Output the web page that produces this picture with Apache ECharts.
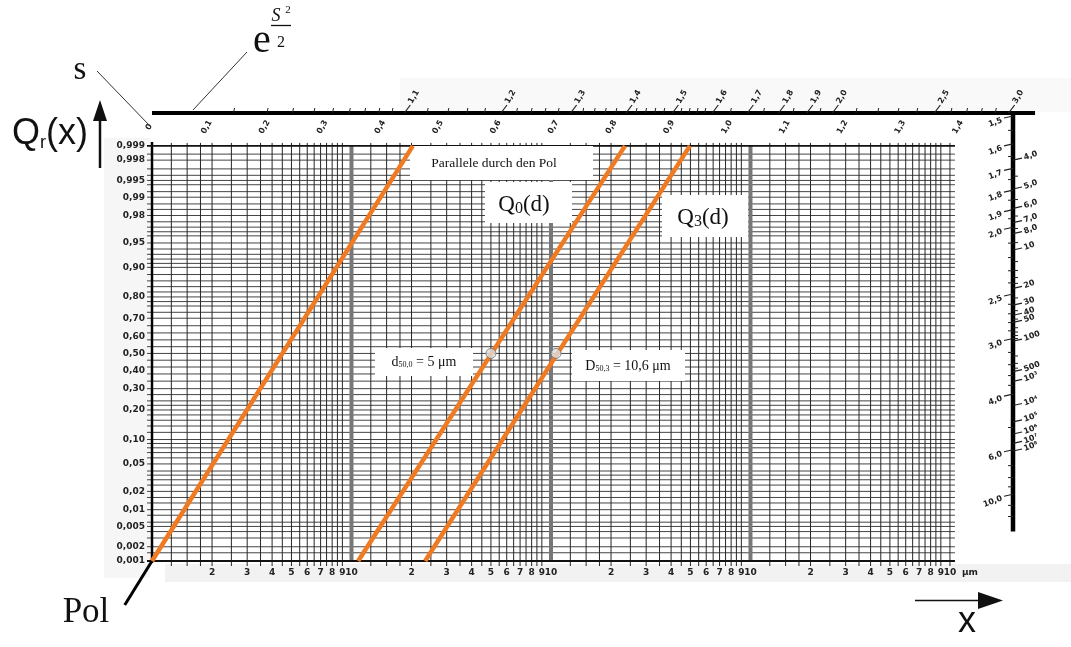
<!DOCTYPE html>
<html><head><meta charset="utf-8">
<script src="https://cdn.jsdelivr.net/npm/echarts/dist/echarts.min.js"></script>
<style>html,body{margin:0;padding:0;background:#fff}#c{width:1071px;height:647px}</style>
</head><body><div id="c"></div>
<script>
// ---------------- data ----------------
const xDecadeStarts = [0.1, 1, 10, 100];
const xGridMantissas = [1, 1.25, 1.5, 1.75, 2, 2.5, 3, 3.5, 4, 4.5, 5, 5.5, 6, 6.5, 7, 7.5, 8, 8.5, 9];
const xBoldLines = [1, 10, 100];
const xLeftEdge = 0.1;
const xRightEdge = 1000;
const xTickMantissas = [2, 3, 4, 5, 6, 7, 8, 9, 10];
const xTickLabels = ['2', '3', '4', '5', '6', '7', '8', '9', '10'];
const xUnit = 'μm';

const yTickProbs = [0.999, 0.998, 0.995, 0.99, 0.98, 0.95, 0.90, 0.80, 0.70, 0.60, 0.50, 0.40, 0.30, 0.20, 0.10, 0.05, 0.02, 0.01, 0.005, 0.002, 0.001];
const yTickLabels = ['0,999', '0,998', '0,995', '0,99', '0,98', '0,95', '0,90', '0,80', '0,70', '0,60', '0,50', '0,40', '0,30', '0,20', '0,10', '0,05', '0,02', '0,01', '0,005', '0,002', '0,001'];
const yGridProbs = [0.0015, 0.002, 0.003, 0.004, 0.005, 0.006, 0.008, 0.01, 0.013, 0.016, 0.02, 0.025, 0.03, 0.035, 0.04, 0.05, 0.06, 0.07, 0.08, 0.09, 0.10, 0.12, 0.14, 0.16, 0.18, 0.20, 0.22, 0.24, 0.27, 0.30, 0.34, 0.38, 0.42, 0.46, 0.50, 0.54, 0.58, 0.62, 0.66, 0.70, 0.73, 0.76, 0.78, 0.80, 0.82, 0.84, 0.86, 0.88, 0.90, 0.91, 0.92, 0.93, 0.94, 0.95, 0.96, 0.965, 0.97, 0.975, 0.98, 0.984, 0.987, 0.99, 0.992, 0.994, 0.995, 0.996, 0.997, 0.998, 0.9985];
const yBorderProbs = [0.001, 0.999];

// distribution lines  [x (µm), Q]
const polLine = [[0.1, 0.001], [2.03, 0.999]];
const polExtension = [[0.1, 0.001], [0.073, 0.00009]];
const q0Line = [[1.08, 0.001], [23.5, 0.999]];
const q3Line = [[2.34, 0.001], [49.7, 0.999]];
const medianPoints = [[5, 0.5], [10.6, 0.5]];

// nomogram scales
const sTopValues = [0, 0.1, 0.2, 0.3, 0.4, 0.5, 0.6, 0.7, 0.8, 0.9, 1.0, 1.1, 1.2, 1.3, 1.4];
const sTopLabels = ['0', '0,1', '0,2', '0,3', '0,4', '0,5', '0,6', '0,7', '0,8', '0,9', '1,0', '1,1', '1,2', '1,3', '1,4'];
const sRightValues = [1.5, 1.6, 1.7, 1.8, 1.9, 2.0, 2.5, 3.0, 4.0, 6.0, 10.0];
const sRightLabels = ['1,5', '1,6', '1,7', '1,8', '1,9', '2,0', '2,5', '3,0', '4,0', '6,0', '10,0'];
const sRightMinor = [1.55, 1.65, 1.75, 1.85, 1.95, 2.1, 2.2, 2.3, 2.4, 2.6, 2.7, 2.8, 2.9, 3.2, 3.4, 3.6, 3.8, 5.0, 7.0, 8.0, 9.0, 12, 15];
const eTopValues = [1.1, 1.2, 1.3, 1.4, 1.5, 1.6, 1.7, 1.8, 1.9, 2.0, 2.5, 3.0];
const eTopLabels = ['1,1', '1,2', '1,3', '1,4', '1,5', '1,6', '1,7', '1,8', '1,9', '2,0', '2,5', '3,0'];
const eTopMinor = [1.01, 1.02, 1.03, 1.04, 1.05, 1.06, 1.07, 1.08, 1.09, 1.12, 1.14, 1.16, 1.18, 1.22, 1.24, 1.26, 1.28, 1.32, 1.34, 1.36, 1.38, 1.42, 1.44, 1.46, 1.48, 1.52, 1.54, 1.56, 1.58, 1.65, 1.75, 1.85, 1.95, 2.1, 2.2, 2.3, 2.4, 2.6, 2.7, 2.8, 2.9];
const eRightValues = [4, 5, 6, 7, 8, 10, 20, 30, 40, 50, 100, 500, 1e3, 1e4, 1e5, 1e6, 1e7, 1e8];
const eRightLabels = ['4,0', '5,0', '6,0', '7,0', '8,0', '10', '20', '30', '40', '50', '100', '500', '10³', '10⁴', '10⁵', '10⁶', '10⁷', '10⁸'];
const eRightMinor = [4.5, 5.5, 6.5, 7.5, 9, 12, 14, 16, 18, 25, 35, 45, 60, 70, 80, 90, 200, 300, 400];
const topScaleEndX = 2670;
const rightScaleEndProb = 0.004;

// ---------------- helpers ----------------
function probit(p) {
  const a = [-3.969683028665376e+01, 2.209460984245205e+02, -2.759285104469687e+02, 1.383577518672690e+02, -3.066479806614716e+01, 2.506628277459239e+00];
  const b = [-5.447609879822406e+01, 1.615858368580409e+02, -1.556989798598866e+02, 6.680131188771972e+01, -1.328068155288572e+01];
  const c = [-7.784894002430293e-03, -3.223964580411365e-01, -2.400758277161838e+00, -2.549732539343734e+00, 4.374664141464968e+00, 2.938163982698783e+00];
  const d = [7.784695709041462e-03, 3.224671290700398e-01, 2.445134137142996e+00, 3.754408661907416e+00];
  const pl = 0.02425, ph = 1 - pl; let q, r;
  if (p < pl) { q = Math.sqrt(-2 * Math.log(p)); return (((((c[0]*q+c[1])*q+c[2])*q+c[3])*q+c[4])*q+c[5]) / ((((d[0]*q+d[1])*q+d[2])*q+d[3])*q+1); }
  if (p <= ph) { q = p - 0.5; r = q*q; return (((((a[0]*r+a[1])*r+a[2])*r+a[3])*r+a[4])*r+a[5])*q / (((((b[0]*r+b[1])*r+b[2])*r+b[3])*r+b[4])*r+1); }
  q = Math.sqrt(-2 * Math.log(1 - p)); return -(((((c[0]*q+c[1])*q+c[2])*q+c[3])*q+c[4])*q+c[5]) / ((((d[0]*q+d[1])*q+d[2])*q+d[3])*q+1);
}
const XMIN = 0.1, XMAX = 2070;
const YMIN = probit(0.001), YMAX = 3.58;
const YTOPLINE = probit(0.999);
function nomo(s) {
  const xt = XMIN * Math.exp(s * (YMAX - YMIN));
  return xt <= XMAX ? [xt, YMAX] : [XMAX, YMIN + Math.log(XMAX / XMIN) / s];
}
const sFromE = v => Math.sqrt(2 * Math.log(v));
const toXY = arr => arr.map(d => [d[0], probit(d[1])]);

function vLines(values, style, extTop, extBot, z) {
  return { type: 'custom', coordinateSystem: 'cartesian2d', silent: true, clip: false, z: z,
    data: values.map(v => [v, 0]),
    renderItem: (params, api) => {
      const a = api.coord([api.value(0), YTOPLINE]), b = api.coord([api.value(0), YMIN]);
      return { type: 'line', shape: { x1: a[0], y1: a[1] - extTop, x2: b[0], y2: b[1] + extBot }, style: Object.assign({}, style) };
    } };
}
function hLines(probs, style, extL, extR, z) {
  return { type: 'custom', coordinateSystem: 'cartesian2d', silent: true, clip: false, z: z,
    data: probs.map(p => [XMIN, probit(p)]),
    renderItem: (params, api) => {
      const a = api.coord([XMIN, api.value(1)]), b = api.coord([xRightEdge, api.value(1)]);
      return { type: 'line', shape: { x1: a[0] - extL, y1: a[1], x2: b[0] + extR, y2: b[1] }, style: Object.assign({}, style) };
    } };
}
function segs(pairs, style, z) {
  return { type: 'custom', coordinateSystem: 'cartesian2d', silent: true, clip: false, z: z,
    data: pairs.map(p => [p[0][0], p[0][1], p[1][0], p[1][1]]),
    renderItem: (params, api) => {
      const a = api.coord([api.value(0), api.value(1)]), b = api.coord([api.value(2), api.value(3)]);
      return { type: 'line', shape: { x1: a[0], y1: a[1], x2: b[0], y2: b[1] }, style: Object.assign({}, style) };
    } };
}
function ticks(points, dx1, dy1, dx2, dy2, style, z) {
  return { type: 'custom', coordinateSystem: 'cartesian2d', silent: true, clip: false, z: z || 12,
    data: points,
    renderItem: (params, api) => {
      const p = api.coord([api.value(0), api.value(1)]);
      return { type: 'line', shape: { x1: p[0] + dx1, y1: p[1] + dy1, x2: p[0] + dx2, y2: p[1] + dy2 }, style: Object.assign({}, style) };
    } };
}
function texts(points, labels, o) {
  return { type: 'custom', coordinateSystem: 'cartesian2d', silent: true, clip: false, z: o.z || 30,
    data: points,
    renderItem: (params, api) => {
      const p = api.coord([api.value(0), api.value(1)]);
      return { type: 'text', x: p[0] + (o.dx || 0), y: p[1] + (o.dy || 0), rotation: (o.rot || 0) * Math.PI / 180,
        style: { text: labels[params.dataIndex], fill: o.color || '#1a1a1a', font: o.font,
          align: o.align || 'center', verticalAlign: o.va || 'middle' } };
    } };
}

// ---------------- derived ----------------
const vGrid = [];
xDecadeStarts.forEach(d => xGridMantissas.forEach(m => { if (m !== 1) vGrid.push(d * m); }));
vGrid.push(xRightEdge);
const xTickPts = [], xTickTxt = [];
xDecadeStarts.forEach(d => xTickMantissas.forEach((m, i) => { xTickPts.push([d * m, YMIN]); xTickTxt.push(xTickLabels[i]); }));
const yTickPts = yTickProbs.map(p => [XMIN, probit(p)]);

const sTopPts = sTopValues.map(nomo);
const sRightPts = sRightValues.map(nomo);
const sRightMinorPts = sRightMinor.map(nomo);
const eTopPts = eTopValues.map(v => nomo(sFromE(v)));
const eTopMinorPts = eTopMinor.map(v => nomo(sFromE(v)));
const eRightPts = eRightValues.map(v => nomo(sFromE(v)));
const eRightMinorPts = eRightMinor.map(v => nomo(sFromE(v)));
const polExtXY = toXY(polExtension);

const labelFont = 'bold 9px "DejaVu Sans"';
const scaleFont = 'bold 8px "DejaVu Sans"';
const gridStyle = { stroke: '#262626', lineWidth: 1 };
const orange = '#ef7a22';

const series = [
  hLines(yGridProbs, { stroke: '#303030', lineWidth: 0.9 }, 5, 5, 3),
  vLines(vGrid, gridStyle, 3, 5, 4),
  vLines(xBoldLines, { stroke: '#777', lineWidth: 4 }, 0, 0, 5),
  vLines([xLeftEdge], { stroke: '#000', lineWidth: 2.5 }, 4, 2, 6),
  hLines(yBorderProbs, { stroke: '#111', lineWidth: 1.8 }, 5, 5, 6),
  // top and right nomogram scale lines
  segs([[[XMIN, YMAX], [topScaleEndX, YMAX]]], { stroke: '#000', lineWidth: 4 }, 10),
  segs([[[XMAX, YMAX], [XMAX, probit(rightScaleEndProb)]]], { stroke: '#000', lineWidth: 4.5 }, 10),
  ticks(eTopMinorPts, 0, 0, 1, -5, { stroke: '#222', lineWidth: 1 }),
  ticks(eTopPts, 0, 0, 6, -8, { stroke: '#222', lineWidth: 1.2 }),
  ticks(sRightMinorPts, 0, 0, -5, 0, { stroke: '#222', lineWidth: 1 }),
  ticks(sRightPts, 0, 0, -9, 2, { stroke: '#222', lineWidth: 1.2 }),
  ticks(eRightMinorPts, 0, 0, 5, 0, { stroke: '#222', lineWidth: 1 }),
  ticks(eRightPts, 0, 0, 9, -2, { stroke: '#222', lineWidth: 1.2 }),
  texts(sTopPts, sTopLabels, { font: scaleFont, dx: -3, dy: 14, rot: 60, color: '#222' }),
  texts(eTopPts, eTopLabels, { font: scaleFont, dx: 6, dy: -10, rot: 60, align: 'left', color: '#222' }),
  texts(sRightPts, sRightLabels, { font: scaleFont, dx: -11, dy: 4, rot: 20, align: 'right', color: '#222' }),
  texts(eRightPts, eRightLabels, { font: scaleFont, dx: 11, dy: -2, rot: 20, align: 'left', color: '#222' }),
  // axis labels
  texts(yTickPts, yTickLabels, { font: labelFont, dx: -7, dy: 0, align: 'right', color: '#222' }),
  texts(xTickPts, xTickTxt, { font: labelFont, dx: 0, dy: 12, color: '#222' }),
  texts([[xRightEdge, YMIN]], [xUnit], { font: labelFont, dx: 20, dy: 12, color: '#222' }),
  // pole extension (black) below the grid
  segs([[polExtXY[0], polExtXY[1]]], { stroke: '#000', lineWidth: 3 }, 40),
  // distribution lines
  { type: 'line', name: 'Parallele durch den Pol', data: toXY(polLine), symbol: 'none', clip: false, z: 60,
    lineStyle: { color: orange, width: 4.5 } },
  { type: 'line', name: 'Q0(d)', data: toXY(q0Line), symbol: 'none', clip: false, z: 60,
    lineStyle: { color: orange, width: 4.5 } },
  { type: 'line', name: 'Q3(d)', data: toXY(q3Line), symbol: 'none', clip: false, z: 60,
    lineStyle: { color: orange, width: 4.5 } },
  { type: 'scatter', name: 'Median', data: toXY(medianPoints), symbol: 'circle', symbolSize: 10, z: 70,
    itemStyle: { color: '#dedede', borderColor: '#6f6f6f', borderWidth: 1 } }
];

const serif = '"Liberation Serif", "DejaVu Serif", serif';
const sans = '"Liberation Sans", Arial, sans-serif';
const box = (x, y, w, h) => ({ type: 'rect', shape: { x, y, width: w, height: h }, style: { fill: '#fff' }, z: 50 });
const graphic = [
  { type: 'rect', shape: { x: 165, y: 564, width: 906, height: 18 }, style: { fill: '#f2f2f2' }, z: 0 },
  { type: 'rect', shape: { x: 104, y: 138, width: 46, height: 440 }, style: { fill: '#f6f6f6' }, z: 0 },
  { type: 'rect', shape: { x: 400, y: 78, width: 671, height: 34 }, style: { fill: '#f9f9f9' }, z: 0 },
  box(410, 146, 183, 34),
  { type: 'text', x: 494, y: 163, z: 51, style: { text: 'Parallele durch den Pol', font: '13.5px ' + serif, fill: '#111', align: 'center', verticalAlign: 'middle' } },
  box(485, 182, 87, 41),
  { type: 'text', x: 524, y: 205, z: 51, style: { text: '{a|Q}{b|0}{a|(d)}', align: 'center', verticalAlign: 'middle',
    rich: { a: { font: '23px ' + serif, fill: '#111', verticalAlign: 'bottom' }, b: { font: '16px ' + serif, fill: '#111', verticalAlign: 'bottom' } } } },
  box(662, 195, 86, 42),
  { type: 'text', x: 703, y: 218, z: 51, style: { text: '{a|Q}{b|3}{a|(d)}', align: 'center', verticalAlign: 'middle',
    rich: { a: { font: '23px ' + serif, fill: '#111', verticalAlign: 'bottom' }, b: { font: '16px ' + serif, fill: '#111', verticalAlign: 'bottom' } } } },
  box(375, 348, 98, 28),
  { type: 'text', x: 424, y: 362, z: 51, style: { text: '{a|d}{b|50,0}{a| = 5 μm}', align: 'center', verticalAlign: 'middle',
    rich: { a: { font: '14px ' + serif, fill: '#111', verticalAlign: 'bottom' }, b: { font: '8px ' + serif, fill: '#111', verticalAlign: 'bottom' } } } },
  box(572, 350, 113, 31),
  { type: 'text', x: 628, y: 366, z: 51, style: { text: '{a|D}{b|50,3}{a| = 10,6 μm}', align: 'center', verticalAlign: 'middle',
    rich: { a: { font: '14px ' + serif, fill: '#111', verticalAlign: 'bottom' }, b: { font: '8px ' + serif, fill: '#111', verticalAlign: 'bottom' } } } },
  // s label and leader
  { type: 'text', x: 80, y: 70, z: 51, style: { text: 's', font: '33px ' + serif, fill: '#111', align: 'center', verticalAlign: 'middle' } },
  { type: 'line', shape: { x1: 97, y1: 71, x2: 149, y2: 125 }, style: { stroke: '#333', lineWidth: 1 }, z: 51 },
  // e^(S²/2)
  { type: 'text', x: 262, y: 41, z: 51, style: { text: 'e', font: '40px ' + serif, fill: '#111', align: 'center', verticalAlign: 'middle' } },
  { type: 'text', x: 276, y: 16, z: 51, style: { text: 'S', font: 'italic 18px ' + serif, fill: '#111', align: 'center', verticalAlign: 'middle' } },
  { type: 'text', x: 288, y: 10, z: 51, style: { text: '2', font: '11px ' + serif, fill: '#111', align: 'center', verticalAlign: 'middle' } },
  { type: 'line', shape: { x1: 271, y1: 25.5, x2: 291, y2: 25.5 }, style: { stroke: '#111', lineWidth: 1.3 }, z: 51 },
  { type: 'text', x: 281, y: 43, z: 51, style: { text: '2', font: '16px ' + serif, fill: '#111', align: 'center', verticalAlign: 'middle' } },
  { type: 'line', shape: { x1: 247, y1: 52, x2: 193, y2: 110 }, style: { stroke: '#333', lineWidth: 1 }, z: 51 },
  // Qr(x) with arrow
  { type: 'text', x: 12, y: 134, z: 51, style: { text: '{a|Q}{b|r}{a|(x)}', align: 'left', verticalAlign: 'middle',
    rich: { a: { font: '36px ' + sans, fill: '#111', verticalAlign: 'bottom' }, b: { font: '18px ' + sans, fill: '#111', verticalAlign: 'bottom' } } } },
  { type: 'line', shape: { x1: 100, y1: 168, x2: 100, y2: 118 }, style: { stroke: '#111', lineWidth: 2.5 }, z: 51 },
  { type: 'polygon', shape: { points: [[93, 121], [107, 121], [100, 100]] }, style: { fill: '#111' }, z: 51 },
  // Pol
  { type: 'text', x: 86, y: 613, z: 51, style: { text: 'Pol', font: '35px ' + serif, fill: '#111', align: 'center', verticalAlign: 'middle' } },
  // x arrow
  { type: 'line', shape: { x1: 915, y1: 600.5, x2: 980, y2: 600.5 }, style: { stroke: '#111', lineWidth: 1.5 }, z: 51 },
  { type: 'polygon', shape: { points: [[978, 592], [978, 609], [1003, 600.5]] }, style: { fill: '#111' }, z: 51 },
  { type: 'text', x: 967, y: 622, z: 51, style: { text: 'x', font: '36px ' + sans, fill: '#111', align: 'center', verticalAlign: 'middle' } }
];

const chart = echarts.init(document.getElementById('c'), null, { renderer: 'canvas' });
chart.setOption({
  animation: false,
  backgroundColor: '#fff',
  grid: { left: 152, right: 58, top: 113, bottom: 86 },
  xAxis: { type: 'log', logBase: 10, min: XMIN, max: XMAX, show: false },
  yAxis: { type: 'value', min: YMIN, max: YMAX, show: false },
  graphic: graphic,
  series: series
});
</script></body></html>
